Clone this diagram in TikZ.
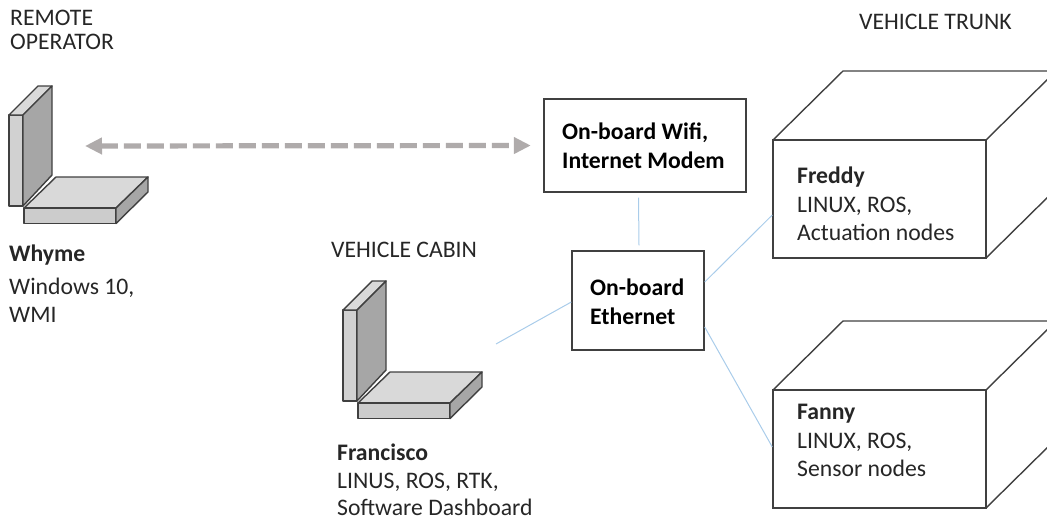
\documentclass[tikz,border=0pt]{standalone}
\usepackage{fontspec}
\setmainfont{Carlito}
\usetikzlibrary{arrows.meta,calc}
\definecolor{edgeC}{HTML}{404040}
\definecolor{linkC}{HTML}{A9CCEA}
\definecolor{dashC}{HTML}{AFABAB}
\definecolor{txtC}{HTML}{262626}
\tikzset{
  box/.style={draw=edgeC,line width=1.4pt,fill=white,rectangle,inner sep=0pt},
  face/.style={draw=edgeC,line width=1.4pt,line join=round},
  link/.style={draw=linkC,line width=1pt},
  label/.style={anchor=north west,align=left,inner sep=0pt,text=txtC,font=\fontsize{23.7}{28.7}\selectfont},
  boldlabel/.style={label,text=black,font=\fontsize{23.7}{28.7}\selectfont\bfseries},
  laptop/.pic={
    \path[face,fill=black!18] (9,115) -- (23,115) -- (23,206) -- (9,206) -- cycle;
    \path[face,fill=black!15] (9,115) -- (38,86) -- (52,86) -- (23,115) -- cycle;
    \path[face,fill=black!35] (23,115) -- (52,86) -- (52,175) -- (23,206) -- cycle;
    \path[face,fill=black!15] (24,208) -- (56,177) -- (148,177) -- (116,208) -- cycle;
    \path[face,fill=black!20] (24,208) -- (116,208) -- (116,223.5) -- (24,223.5) -- cycle;
    \path[face,fill=black!35] (116,208) -- (148,177) -- (148,192) -- (116,223.5) -- cycle;
  }
}
\begin{document}
\begin{tikzpicture}[x=1pt,y=-1pt]
\useasboundingbox (0,0) rectangle (1047,520);
\clip (0,0) rectangle (1047,520);
% laptops
\pic at (0,0) {laptop};
\pic at (334,195) {laptop};
% cube tops and sides
\draw[face] (773,140) -- (843,71) -- (1056,71) -- (986,140);
\draw[face] (986,258) -- (1056,189);
\draw[face] (773,390) -- (843,321) -- (1056,321) -- (986,390);
\draw[face] (986,508) -- (1056,439);
% boxes
\node[box,minimum width=202pt,minimum height=93pt] (wifi) at (645,145.5) {};
\node[box,minimum width=132pt,minimum height=99pt] (eth) at (638,300.5) {};
\node[box,minimum width=213pt,minimum height=118pt] (freddy) at (879.5,199) {};
\node[box,minimum width=213pt,minimum height=118pt] (fanny) at (879.5,449) {};
% free ends
\coordinate (whymeEnd) at (85,146);
\coordinate (franciscoEnd) at (496,344);
% connectors
\draw[draw=dashC,line width=5.2pt,dash pattern=on 17pt off 6pt,{Triangle[length=17pt,width=16pt]}-{Triangle[length=17pt,width=16pt]}] (whymeEnd) -- ([xshift=-12.5pt]wifi.west);
\draw[link] ([xshift=-6.5pt,yshift=-5pt]wifi.south) -- ([xshift=1pt,yshift=5pt]eth.north);
\draw[link] ([yshift=18.5pt]eth.east) -- ([yshift=-16pt]freddy.west);
\draw[link] ([yshift=-26.5pt]eth.east) -- ([yshift=2pt]fanny.west);
\draw[link] (franciscoEnd) -- ([yshift=-1.5pt]eth.west);
% labels
\node[label,font=\fontsize{23.7}{24}\selectfont] (remote) at (10,9.5) {REMOTE\\OPERATOR};
\node[label] (trunk) at (859,14) {VEHICLE TRUNK};
\node[label] (cabin) at (331,242) {VEHICLE CABIN};
\node[boldlabel] (wifiT) at (562,123) {On-board Wifi,\\Internet Modem};
\node[boldlabel] (ethT) at (590,279) {On-board\\Ethernet};
\node[label] (freddyT) at (797,166.5) {\textbf{Freddy}\\LINUX, ROS,\\Actuation nodes};
\node[label] (fannyT) at (797,404) {\textbf{Fanny}\\LINUX, ROS,\\Sensor nodes};
\node[label] (whymeT) at (9,244.5) {\textbf{Whyme}\\[4pt]Windows 10,\\WMI};
\node[label,font=\fontsize{23.7}{27.8}\selectfont] (franciscoT) at (337,443.5) {\textbf{Francisco}\\LINUS, ROS, RTK,\\Software Dashboard};
\end{tikzpicture}
\end{document}
